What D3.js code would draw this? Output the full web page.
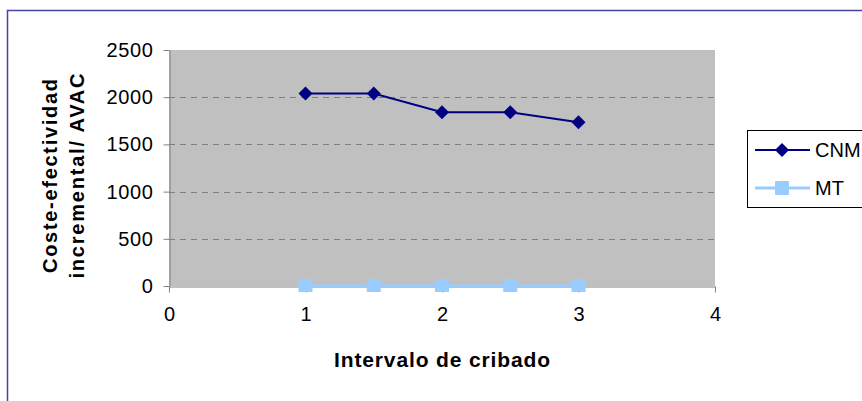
<!DOCTYPE html>
<html>
<head>
<meta charset="utf-8">
<script src="https://cdn.jsdelivr.net/npm/d3@7"></script>
<style>
  html, body { margin: 0; padding: 0; background: #fff; }
  svg { display: block; font-family: Arial, "Liberation Sans", sans-serif; }
</style>
</head>
<body>
<svg id="chart" width="862" height="401"></svg>
<script>
// data
const intervals = [1, 1.5, 2, 2.5, 3];
const cnmValues = [2040, 2040, 1840, 1840, 1735];
const mtValues = [0, 0, 0, 0, 0];
const xTicks = [0, 1, 2, 3, 4];
const yTicks = [0, 500, 1000, 1500, 2000, 2500];
const seriesNames = ['CNM', 'MT'];

const svg = d3.select('#chart');
const plot = { left: 169, right: 715, top: 50, bottom: 286 };
const FONT = 'Arial, "Liberation Sans", sans-serif';

const x = d3.scaleLinear().domain([0, 4]).range([plot.left, plot.right]);
const y = d3.scaleLinear().domain([0, 2500]).range([plot.bottom, plot.top]);

// outer chart border (right/bottom fall off the picture)
svg.append('rect').attr('x', 7.5).attr('y', 10.5).attr('width', 900).attr('height', 450)
  .attr('fill', '#fff').attr('stroke', '#4444a6').attr('stroke-width', 1.5);

// plot area
svg.append('rect').attr('x', plot.left).attr('y', plot.top)
  .attr('width', plot.right - plot.left).attr('height', plot.bottom - plot.top)
  .attr('fill', '#c0c0c0');

// dashed gridlines
svg.append('g').selectAll('line').data(yTicks.filter(d => d > 0 && d < 2500)).join('line')
  .attr('x1', plot.left).attr('x2', plot.right)
  .attr('y1', d => Math.round(y(d)) + 0.5).attr('y2', d => Math.round(y(d)) + 0.5)
  .attr('stroke', '#808080').attr('stroke-dasharray', '6,5');

// y axis
const yAxis = svg.append('g').attr('transform', `translate(${plot.left + 0.5},0)`)
  .call(d3.axisLeft(y).tickValues(yTicks).tickFormat(d3.format('d'))
    .tickSize(6).tickPadding(10).tickSizeOuter(0));
yAxis.attr('font-size', 20).attr('font-family', FONT);
yAxis.select('.domain').attr('stroke', '#808080');
yAxis.selectAll('.tick line').attr('stroke', '#808080');
yAxis.selectAll('.tick text').attr('fill', '#000').style('letter-spacing', '0.6px');

// x axis
const xAxis = svg.append('g').attr('transform', `translate(0,${plot.bottom + 0.5})`)
  .call(d3.axisBottom(x).tickValues(xTicks).tickFormat(d3.format('d'))
    .tickSize(6).tickPadding(14).tickSizeOuter(0));
xAxis.attr('font-size', 20).attr('font-family', FONT);
xAxis.select('.domain').attr('stroke', '#808080');
xAxis.selectAll('.tick line').attr('stroke', '#808080');
xAxis.selectAll('.tick text').attr('fill', '#000');

// axis titles
svg.append('text').attr('x', 442).attr('y', 367).attr('text-anchor', 'middle')
  .attr('font-size', 21).attr('font-weight', 'bold')
  .attr('textLength', 216).attr('lengthAdjust', 'spacing')
  .text('Intervalo de cribado');

const yTitle = svg.append('g').attr('transform', 'translate(0,176) rotate(-90)');
yTitle.append('text').attr('x', 0).attr('y', 57).attr('text-anchor', 'middle')
  .attr('font-size', 20).attr('font-weight', 'bold')
  .attr('textLength', 194).attr('lengthAdjust', 'spacing')
  .text('Coste-efectividad');
yTitle.append('text').attr('x', 0).attr('y', 84).attr('text-anchor', 'middle')
  .attr('font-size', 20).attr('font-weight', 'bold')
  .attr('textLength', 205).attr('lengthAdjust', 'spacing')
  .text('incremental/ AVAC');

// series
const diamond = 'M0,-7L7,0L0,7L-7,0Z';
const line = d3.line().x(d => x(d[0])).y(d => y(d[1]));

const mt = intervals.map((v, i) => [v, mtValues[i]]);
svg.append('path').datum(mt).attr('d', line).attr('fill', 'none')
  .attr('stroke', '#99ccff').attr('stroke-width', 3);
svg.append('g').selectAll('rect').data(mt).join('rect')
  .attr('x', d => x(d[0]) - 7).attr('y', d => y(d[1]) - 7)
  .attr('width', 14).attr('height', 13).attr('fill', '#99ccff');

const cnm = intervals.map((v, i) => [v, cnmValues[i]]);
svg.append('path').datum(cnm).attr('d', line).attr('fill', 'none')
  .attr('stroke', '#000080').attr('stroke-width', 2);
svg.append('g').selectAll('path').data(cnm).join('path')
  .attr('d', diamond).attr('transform', d => `translate(${x(d[0])},${y(d[1])})`)
  .attr('fill', '#000080');

// legend
const legend = svg.append('g');
legend.append('rect').attr('x', 747.5).attr('y', 130.5).attr('width', 140).attr('height', 77)
  .attr('fill', '#fff').attr('stroke', '#000').attr('stroke-width', 1);
const legendRows = [
  { name: seriesNames[0], y: 150, color: '#000080', w: 2, mark: 'diamond' },
  { name: seriesNames[1], y: 188, color: '#99ccff', w: 3, mark: 'square' }
];
legendRows.forEach(r => {
  legend.append('line').attr('x1', 755).attr('x2', 810).attr('y1', r.y).attr('y2', r.y)
    .attr('stroke', r.color).attr('stroke-width', r.w);
  if (r.mark === 'diamond') {
    legend.append('path').attr('d', diamond).attr('transform', `translate(782,${r.y})`).attr('fill', r.color);
  } else {
    legend.append('rect').attr('x', 775).attr('y', r.y - 7).attr('width', 14).attr('height', 14).attr('fill', r.color);
  }
  legend.append('text').attr('x', 815).attr('y', r.y + 7).attr('font-size', 20)
    .text(r.name);
});
</script>
</body>
</html>
